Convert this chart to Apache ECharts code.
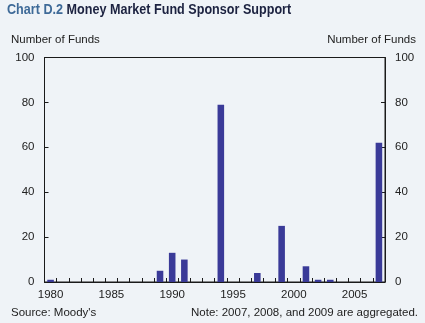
<!DOCTYPE html>
<html>
<head>
<meta charset="utf-8">
<script src="https://cdn.jsdelivr.net/npm/echarts@6/dist/echarts.min.js"></script>
<style>
  html, body { margin: 0; padding: 0; background: #eff3f7; }
  #chart { width: 425px; height: 323px; }
</style>
</head>
<body>
<div id="chart"></div>
<script>
// Money market fund sponsor support events per year
const years = [];
for (let y = 1980; y <= 2007; y++) years.push(String(y));
const fundCounts = [1, 0, 0, 0, 0, 0, 0, 0, 0, 5, 13, 10, 0, 0, 79, 0, 0, 4, 0, 25, 0, 7, 1, 1, 0, 0, 0, 62];
const yTicks = { min: 0, max: 100, interval: 20 };

const textColor = '#222';
const axisColor = '#1a1a1a';
const baseFont = 'Liberation Sans, Arial, sans-serif';
const titleFont = 'bold 15px Liberation Sans, Arial, sans-serif';

const chart = echarts.init(document.getElementById('chart'));

const yAxisCommon = {
  type: 'value',
  min: yTicks.min,
  max: yTicks.max,
  interval: yTicks.interval,
  axisLine: { show: true, lineStyle: { color: axisColor, width: 1 } },
  axisTick: { show: true, inside: true, length: 4, lineStyle: { color: axisColor } },
  axisLabel: { color: textColor, fontSize: 11.5, fontFamily: baseFont, margin: 10 },
  splitLine: { show: false }
};

chart.setOption({
  backgroundColor: '#eff3f7',
  animation: false,
  graphic: [
    {
      // condensed-looking headline: horizontally squeezed bold text
      type: 'group',
      x: 7,
      y: 2,
      scaleX: 0.84,
      children: [{
        type: 'text',
        style: {
          text: '{a|Chart D.2} {b|Money Market Fund Sponsor Support}',
          font: titleFont,
          rich: {
            a: { fill: '#3e6a98', font: titleFont, color: '#3e6a98' },
            b: { fill: '#1c2240', font: titleFont, color: '#1c2240' }
          }
        }
      }]
    },
    { type: 'text', left: 11, top: 34, style: { text: 'Number of Funds', fill: textColor, font: '11.5px ' + baseFont } },
    { type: 'text', right: 9, top: 34, style: { text: 'Number of Funds', fill: textColor, font: '11.5px ' + baseFont } },
    { type: 'text', left: 11, top: 307, style: { text: "Source: Moody's", fill: textColor, font: '11.5px ' + baseFont } },
    { type: 'text', right: 7, top: 307, style: { text: 'Note: 2007, 2008, and 2009 are aggregated.', fill: textColor, font: '11.5px ' + baseFont } }
  ],
  grid: {
    left: 44.5,
    right: 40,
    top: 57.5,
    bottom: 41,
    show: true,
    borderColor: axisColor,
    borderWidth: 1,
    backgroundColor: 'transparent'
  },
  xAxis: {
    type: 'category',
    data: years,
    boundaryGap: true,
    axisLine: { show: true, lineStyle: { color: axisColor, width: 1 } },
    axisTick: { show: true, inside: true, length: 4, interval: 0, lineStyle: { color: axisColor } },
    axisLabel: { interval: 4, color: textColor, fontSize: 11.5, fontFamily: baseFont, margin: 7 }
  },
  yAxis: [
    Object.assign({ position: 'left' }, yAxisCommon),
    Object.assign({ position: 'right' }, yAxisCommon)
  ],
  series: [{
    type: 'bar',
    data: fundCounts,
    barWidth: '54%',
    itemStyle: { color: '#3a3a98' }
  }]
});
</script>
</body>
</html>
